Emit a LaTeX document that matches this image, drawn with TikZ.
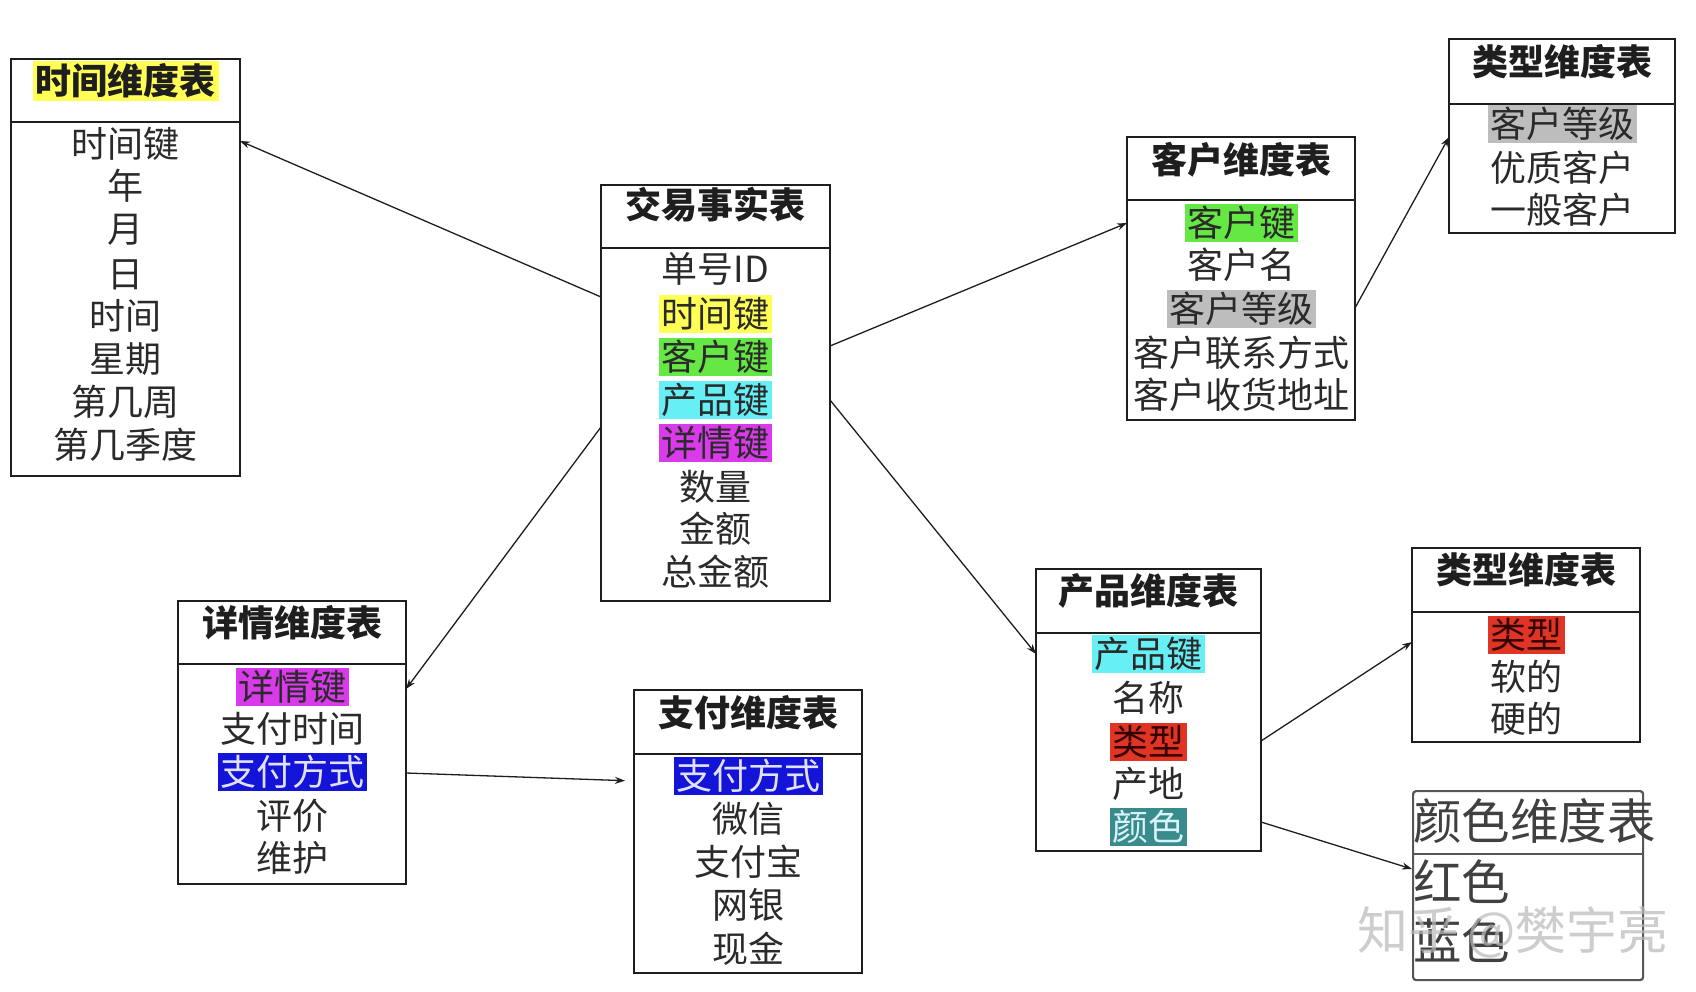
\documentclass[tikz,border=0pt]{standalone}
\usepackage{fontspec}
\setmainfont{Noto Sans CJK SC}
\usetikzlibrary{arrows.meta,calc}
\definecolor{ink}{HTML}{1E1E1E}
\definecolor{rowink}{HTML}{2A2A2A}
\definecolor{hlyellow}{HTML}{FFFF55}
\definecolor{hlgreen}{HTML}{66E844}
\definecolor{hlcyan}{HTML}{66F0F6}
\definecolor{hlmagenta}{HTML}{D93BEA}
\definecolor{hlgray}{HTML}{BDBDBD}
\definecolor{hlblue}{HTML}{1414D8}
\definecolor{hlred}{HTML}{E03424}
\definecolor{hlteal}{HTML}{3A8C8C}
\tikzset{
  box/.style={draw=ink, line width=1.4pt, anchor=north west, inner sep=0pt, outer sep=0pt},
  sepline/.style={draw=ink, line width=1.4pt},
  rowtext/.style={font=\fontsize{36}{42}\selectfont, text=rowink, inner xsep=2.5pt, inner ysep=2pt, text height=30.2pt, text depth=2.9pt},
  titletext/.style={font=\fontsize{36}{42}\selectfont\bfseries, text=ink, inner sep=0pt},
  bigtext/.style={font=\fontsize{48.5}{52}\selectfont, text=ink!85, inner sep=0pt, anchor=west},
  conn/.style={draw=ink, line width=1.3pt, -{Stealth[length=10pt,width=7pt]}},
  yel/.style={fill=hlyellow},
  grn/.style={fill=hlgreen},
  cyn/.style={fill=hlcyan},
  mag/.style={fill=hlmagenta},
  gry/.style={fill=hlgray},
  blu/.style={fill=hlblue, text=white!88!blue},
  rd/.style={fill=hlred, text=black!80!red},
  tea/.style={fill=hlteal, text=white!85!cyan},
}
\newcommand\mktab[6]{%
  \node[box, minimum width={#4-#2}, minimum height={#5-#3}] (#1) at (#2,#3) {};
  \draw[sepline] ($(#1.north west)+(0,#6-#3)$) -- ($(#1.north east)+(0,#6-#3)$);
}
\newcommand\rw[5]{\node[rowtext,#4] (#1) at (#2,#3) {#5};}
\newcommand\ttl[4]{\node[titletext] (#1) at (#2,#3) {#4};}
\begin{document}
\begin{tikzpicture}[x=1pt,y=-1pt]
\useasboundingbox (0,0) rectangle (1696,992);
\fill[white] (0,0) rectangle (1696,992);

% time dimension
\mktab{time}{11}{59}{240}{476}{122}
\node[titletext, fill=hlyellow, inner xsep=3pt, inner ysep=3pt] (timeT) at (125.5,81) {时间维度表};
\rw{time1}{125.5}{144}{}{时间键}
\rw{time2}{125.5}{186}{}{年}
\rw{time3}{125.5}{229}{}{月}
\rw{time4}{125.5}{274}{}{日}
\rw{time5}{125.5}{316}{}{时间}
\rw{time6}{125.5}{359}{}{星期}
\rw{time7}{125.5}{402}{}{第几周}
\rw{time8}{125.5}{445}{}{第几季度}

% fact table
\mktab{fact}{601}{185}{830}{601}{248}
\ttl{factT}{715.5}{205}{交易事实表}
\rw{fact1}{715.5}{269}{}{单号ID}
\rw{fact2}{715.5}{314}{yel}{时间键}
\rw{fact3}{715.5}{357}{grn}{客户键}
\rw{fact4}{715.5}{400}{cyn}{产品键}
\rw{fact5}{715.5}{443}{mag}{详情键}
\rw{fact6}{715.5}{487}{}{数量}
\rw{fact7}{715.5}{529}{}{金额}
\rw{fact8}{715.5}{572}{}{总金额}

% customer dimension
\mktab{cust}{1127}{137}{1355}{420}{200}
\ttl{custT}{1241}{160}{客户维度表}
\rw{cust1}{1241}{223}{grn}{客户键}
\rw{cust2}{1241}{265}{}{客户名}
\rw{cust3}{1241}{309}{gry}{客户等级}
\rw{cust4}{1241}{353}{}{客户联系方式}
\rw{cust5}{1241}{395}{}{客户收货地址}

% type dimension (customer level)
\mktab{typeA}{1449}{39}{1675}{233}{104}
\ttl{typeAT}{1562}{62}{类型维度表}
\rw{typeA1}{1562}{124}{gry}{客户等级}
\rw{typeA2}{1562}{168}{}{优质客户}
\rw{typeA3}{1562}{210}{}{一般客户}

% detail dimension
\mktab{det}{178}{601}{406}{884}{664}
\ttl{detT}{292}{623}{详情维度表}
\rw{det1}{292}{687}{mag}{详情键}
\rw{det2}{292}{729}{}{支付时间}
\rw{det3}{292}{772}{blu}{支付方式}
\rw{det4}{292}{816}{}{评价}
\rw{det5}{292}{858}{}{维护}

% payment dimension
\mktab{pay}{634}{690}{862}{973}{754}
\ttl{payT}{748}{713}{支付维度表}
\rw{pay1}{748}{776}{blu}{支付方式}
\rw{pay2}{748}{819}{}{微信}
\rw{pay3}{748}{862}{}{支付宝}
\rw{pay4}{748}{905}{}{网银}
\rw{pay5}{748}{949}{}{现金}

% product dimension
\mktab{prod}{1036}{569}{1261}{851}{633}
\ttl{prodT}{1148.5}{591}{产品维度表}
\rw{prod1}{1148.5}{654}{cyn}{产品键}
\rw{prod2}{1148.5}{698}{}{名称}
\rw{prod3}{1148.5}{742}{rd}{类型}
\rw{prod4}{1148.5}{784}{}{产地}
\rw{prod5}{1148.5}{827}{tea}{颜色}

% type dimension (product type)
\mktab{typeB}{1412}{548}{1640}{742}{612}
\ttl{typeBT}{1526}{570}{类型维度表}
\rw{typeB1}{1526}{635}{rd}{类型}
\rw{typeB2}{1526}{677}{}{软的}
\rw{typeB3}{1526}{719}{}{硬的}

% colour dimension
\node[draw=ink!75, line width=2.2pt, rounded corners=3pt, anchor=north west, inner sep=0pt,
      minimum width=230, minimum height=189] (col) at (1412,790) {};
\draw[draw=ink!75, line width=2.2pt] ($(col.north west)+(0,64)$) -- ($(col.north east)+(0,64)$);
\node[bigtext] (colT) at (1413,821) {颜色维度表};
\node[bigtext] (col1) at (1413,882) {红色};
\node[bigtext] (col2) at (1413,941) {蓝色};

% watermark
\node[font=\fontsize{51}{54}\selectfont, text=gray!55, text opacity=0.7, anchor=west, inner sep=0pt] (wm) at (1357,932) {知乎\hspace{8pt}@樊宇亮};

% connectors
\draw[conn] ($(fact.north west)+(0,297-185)$) -- ($(time.north east)+(0,141-59)$);
\draw[conn] ($(fact.north east)+(0,346-185)$) -- ($(cust.north west)+(0,223-137)$);
\draw[conn] ($(cust.north east)+(0,308-137)$) -- ($(typeA.north west)+(0,137-39)$);
\draw[conn] ($(fact.north west)+(0,427-185)$) -- ($(det.north east)+(0,689-601)$);
\draw[conn, shorten >=9pt] ($(det.north east)+(0,773-601)$) -- ($(pay.north west)+(0,781-690)$);
\draw[conn] ($(fact.north east)+(0,400-185)$) -- ($(prod.north west)+(0,654-569)$);
\draw[conn] ($(prod.north east)+(0,741-569)$) -- ($(typeB.north west)+(0,642-548)$);
\draw[conn] ($(prod.north east)+(0,822-569)$) -- ($(col.north west)+(0,869-790)$);
\end{tikzpicture}
\end{document}
